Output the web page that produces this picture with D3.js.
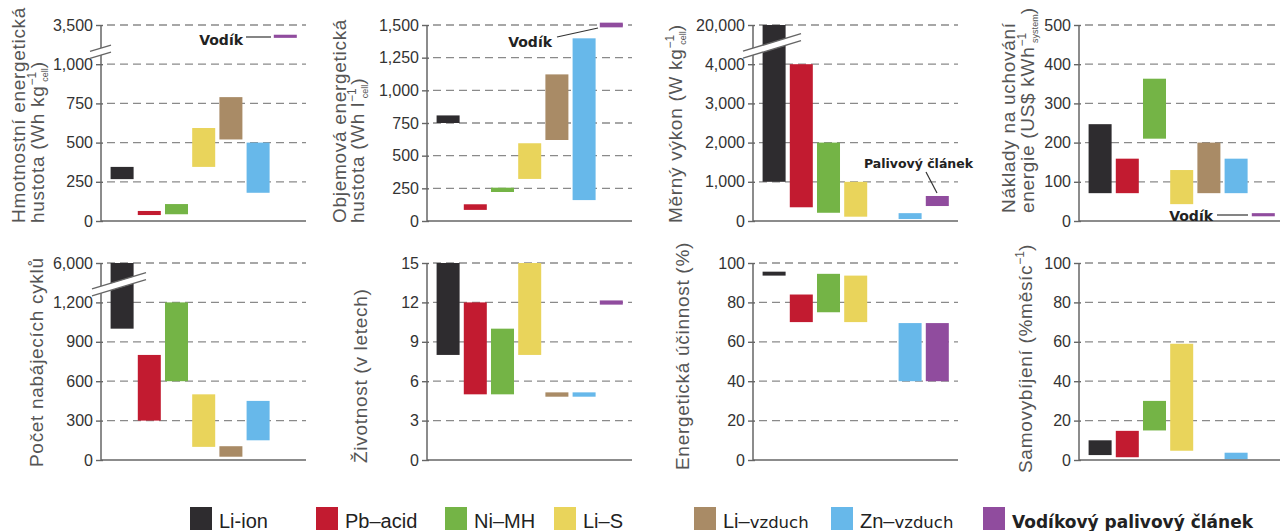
<!DOCTYPE html>
<html>
<head>
<meta charset="utf-8">
<script src="https://cdn.jsdelivr.net/npm/d3@7"></script>
<style>
  body { margin: 0; background: #fff; }
  svg { display: block; }
</style>
</head>
<body>
<div id="chart"></div>
<script>
// categories and colours
var categories = ["Li-ion", "Pb\u2013acid", "Ni\u2013MH", "Li\u2013S", "Li\u2013vzduch", "Zn\u2013vzduch", "Vodíkový palivový článek"];
var colors = ["#2e2c2f", "#c21b30", "#74b446", "#e9d45b", "#a98b66", "#67b8ea", "#904c9e"];

// value ranges [low, high] per category, null = no bar
var gravLow  = [267, 38, 43, 345, 520, 180, 2680];
var gravHigh = [345, 64, 108, 593, 790, 500, 2880];
var volLow   = [750, 85, 222, 322, 620, 160, 1482];
var volHigh  = [808, 128, 255, 595, 1122, 1398, 1518];
var powLow   = [1000, 350, 210, 110, null, 50, 382];
var powHigh  = [20000, 4000, 2000, 1000, null, 200, 638];
var costLow  = [71, 71, 210, 43, 71, 71, 12];
var costHigh = [247, 159, 363, 130, 200, 159, 20];
var cycLow   = [1000, 300, 600, 100, 25, 150, null];
var cycHigh  = [6000, 800, 1200, 500, 105, 450, null];
var lifeLow  = [8, 5, 5, 8, 4.82, 4.82, 11.83];
var lifeHigh = [15, 12, 10, 15, 5.15, 5.15, 12.15];
var effLow   = [93.6, 70, 75, 70, null, 40, 40];
var effHigh  = [95.6, 84, 94.5, 93.6, null, 69.5, 69.5];
var selfLow  = [2.5, 1.4, 15, 4.7, null, 0.4, null];
var selfHigh = [10, 14.8, 30, 59, null, 3.7, null];

// tick values (the top tick may sit above an axis break)
var gravTicks = [0, 250, 500, 750, 1000, 3500];
var volTicks  = [0, 250, 500, 750, 1000, 1250, 1500];
var powTicks  = [0, 1000, 2000, 3000, 4000, 20000];
var costTicks = [0, 100, 200, 300, 400, 500];
var cycTicks  = [0, 300, 600, 900, 1200, 6000];
var lifeTicks = [0, 3, 6, 9, 12, 15];
var effTicks  = [0, 20, 40, 60, 80, 100];
var selfTicks = [0, 20, 40, 60, 80, 100];

var W = 1280, H = 531;
var svg = d3.select("#chart").append("svg")
  .attr("width", W).attr("height", H);

var fmt = d3.format(",");

var panels = [
  {ax: 101, y0: 221, yTop: 25, ticks: gravTicks, lo: gravLow, hi: gravHigh, brk: {l: 11, r: 10},
   title: [{x: 25, y: 223, parts: [["Hmotnostní energetická"]]},
           {x: 44, y: 223, parts: [["hustota  (Wh kg"], ["\u22121", "sup"], ["cell", "sub"], [")", "back"]]}]},
  {ax: 427, y0: 221, yTop: 25, ticks: volTicks, lo: volLow, hi: volHigh,
   title: [{x: 346, y: 223, parts: [["Objemová energetická"]]},
           {x: 364, y: 223, parts: [["hustota  (Wh l"], ["\u22121", "sup"], ["cell", "sub"], [")", "back"]]}]},
  {ax: 753, y0: 221, yTop: 25, ticks: powTicks, lo: powLow, hi: powHigh, brk: {l: 10, r: 48},
   title: [{x: 682, y: 223, parts: [["Měrný výkon  (W kg"], ["\u22121", "sup"], ["cell", "sub"], [")", "back"]]}]},
  {ax: 1079, y0: 221, yTop: 25, ticks: costTicks, lo: costLow, hi: costHigh,
   title: [{x: 1015, y: 213, parts: [["Náklady na uchování"]]},
           {x: 1034, y: 213, parts: [["energie  (US$ kWh"], ["\u22121", "sup"], ["system", "sub"], [")", "back"]]}]},
  {ax: 101, y0: 460, yTop: 263, ticks: cycTicks, lo: cycLow, hi: cycHigh, brk: {l: 9, r: 45},
   title: [{x: 43, y: 467, parts: [["Počet nabájecích cyklů"]]}]},
  {ax: 427, y0: 460, yTop: 263, ticks: lifeTicks, lo: lifeLow, hi: lifeHigh,
   title: [{x: 367, y: 463, parts: [["Životnost (v letech)"]]}]},
  {ax: 753, y0: 460, yTop: 263, ticks: effTicks, lo: effLow, hi: effHigh,
   title: [{x: 689, y: 470, parts: [["Energetická účinnost (%)"]]}]},
  {ax: 1079, y0: 460, yTop: 263, ticks: selfTicks, lo: selfLow, hi: selfHigh,
   title: [{x: 1032, y: 473, parts: [["Samovybíjení (%měsíc"], ["\u22121", "sup2"], [")", "back2"]]}]}
];

panels.forEach(function(p, pi) {
  var g = svg.append("g");
  var n = p.ticks.length - 1;
  var step = (p.y0 - p.yTop) / n;

  // polylinear scale: equal spacing between ticks, handles broken axes too
  var y = d3.scaleLinear()
    .domain(p.ticks)
    .range(p.ticks.map(function(d, i) { return p.y0 - i * step; }));

  var x = d3.scaleBand()
    .domain(categories)
    .range([p.ax + 7.5, p.ax + 7.5 + 7 * 27.2])
    .paddingInner(0.154)
    .paddingOuter(0.077);

  var xEnd = Math.min(p.ax + 205, W);

  // dashed gridlines
  g.selectAll(".grid")
    .data(p.ticks.slice(1))
    .enter().append("line")
      .attr("x1", p.ax + 6).attr("x2", xEnd)
      .attr("y1", function(d) { return y(d); })
      .attr("y2", function(d) { return y(d); })
      .attr("stroke", "#8a8a8a")
      .attr("stroke-width", 1.3)
      .attr("stroke-dasharray", "8,5");

  // bars
  var rows = categories.map(function(c, i) { return {c: c, i: i, lo: p.lo[i], hi: p.hi[i]}; })
    .filter(function(d) { return d.lo !== null; });
  g.selectAll(".bar")
    .data(rows)
    .enter().append("rect")
      .attr("x", function(d) { return x(d.c); })
      .attr("y", function(d) { return y(d.hi); })
      .attr("width", x.bandwidth())
      .attr("height", function(d) { return y(d.lo) - y(d.hi); })
      .attr("fill", function(d) { return colors[d.i]; });

  // axes
  var yAxis = g.append("g")
    .attr("transform", "translate(" + p.ax + ",0)")
    .call(d3.axisLeft(y).tickValues(p.ticks).tickFormat(fmt).tickSizeInner(5).tickSizeOuter(0).tickPadding(3));
  yAxis.select(".domain").remove();
  yAxis.selectAll(".tick line").attr("x1", 2).attr("stroke", "#666").attr("stroke-width", 1.4);
  yAxis.selectAll(".tick text")
    .attr("fill", "#333")
    .style("font-family", "'Liberation Sans', Arial, sans-serif")
    .style("font-size", "16px");

  g.append("line")
    .attr("x1", p.ax).attr("x2", p.ax)
    .attr("y1", p.yTop).attr("y2", p.y0)
    .attr("stroke", "#666").attr("stroke-width", 1.5);
  g.append("line")
    .attr("x1", p.ax).attr("x2", xEnd)
    .attr("y1", p.y0).attr("y2", p.y0)
    .attr("stroke", "#666").attr("stroke-width", 1.5);

  // axis break
  if (p.brk) {
    var yc = (y(p.ticks[n]) + y(p.ticks[n - 1])) / 2 + 7;
    var s = -0.3, gap = 7;
    var xl = p.ax - p.brk.l, xr = p.ax + p.brk.r;
    var yl = function(xx, off) { return yc + off + s * (xx - p.ax); };
    g.append("polygon")
      .attr("points", [[xl, yl(xl, -gap / 2)], [xr, yl(xr, -gap / 2)], [xr, yl(xr, gap / 2)], [xl, yl(xl, gap / 2)]].join(" "))
      .attr("fill", "#fff");
    [-gap / 2, gap / 2].forEach(function(off) {
      g.append("line")
        .attr("x1", xl).attr("y1", yl(xl, off))
        .attr("x2", xr).attr("y2", yl(xr, off))
        .attr("stroke", "#666").attr("stroke-width", 1.4);
    });
  }

  // axis titles
  p.title.forEach(function(t) {
    var txt = g.append("text")
      .attr("transform", "translate(" + t.x + "," + t.y + ") rotate(-90)")
      .attr("fill", "#555")
      .style("font-family", "'Liberation Sans', Arial, sans-serif")
      .style("font-size", "19px")
      .style("letter-spacing", "0.7px");
    t.parts.forEach(function(pt) {
      var ts = txt.append("tspan").text(pt[0]);
      if (pt[1] === "sup") ts.attr("dy", -8).style("font-size", "12px").style("letter-spacing", "0");
      if (pt[1] === "sub") ts.attr("dy", 12).attr("dx", -10).style("font-size", "9px").style("letter-spacing", "0");
      if (pt[1] === "back") ts.attr("dy", -4);
      if (pt[1] === "sup2") ts.attr("dy", -8).style("font-size", "12px").style("letter-spacing", "0");
      if (pt[1] === "back2") ts.attr("dy", 8);
    });
  });
});

// annotations
var noteFont = "'DejaVu Sans', Verdana, sans-serif";
function note(txt, xx, yy, anchor, size) {
  svg.append("text")
    .attr("x", xx).attr("y", yy)
    .attr("text-anchor", anchor)
    .attr("fill", "#222")
    .style("font-family", noteFont)
    .style("font-weight", "bold")
    .style("font-size", size + "px")
    .text(txt);
}
function leader(x1, y1, x2, y2) {
  svg.append("line")
    .attr("x1", x1).attr("y1", y1).attr("x2", x2).attr("y2", y2)
    .attr("stroke", "#333").attr("stroke-width", 1.2);
}
note("Vodík", 243, 45, "end", 14);
leader(246, 37, 271, 37);
note("Vodík", 552, 47, "end", 14);
leader(557, 37, 598, 28);
note("Palivový článek", 864, 168, "start", 12.5);
leader(926, 172, 937, 193);
note("Vodík", 1213, 221, "end", 14);
leader(1217, 215, 1248, 215);

// legend
var legendX = [190, 316, 445, 554, 694, 831, 983];
var lg = svg.append("g");
categories.forEach(function(c, i) {
  lg.append("rect")
    .attr("x", legendX[i]).attr("y", 507)
    .attr("width", 22).attr("height", 23)
    .attr("fill", colors[i]);
  var t = lg.append("text")
    .attr("x", legendX[i] + 29).attr("y", 528)
    .attr("fill", "#222")
    .style("font-family", "'Liberation Sans', Arial, sans-serif")
    .style("font-size", "20px");
  if (i === 6) {
    t.style("font-family", noteFont).style("font-weight", "bold").style("font-size", "17px").text(c);
  } else if (i === 4 || i === 5) {
    var parts = c.split("\u2013");
    t.append("tspan").text(parts[0] + "\u2013");
    t.append("tspan").style("font-family", noteFont).style("font-size", "16.5px").text(parts[1]);
  } else {
    t.text(c);
  }
});
</script>
</body>
</html>
